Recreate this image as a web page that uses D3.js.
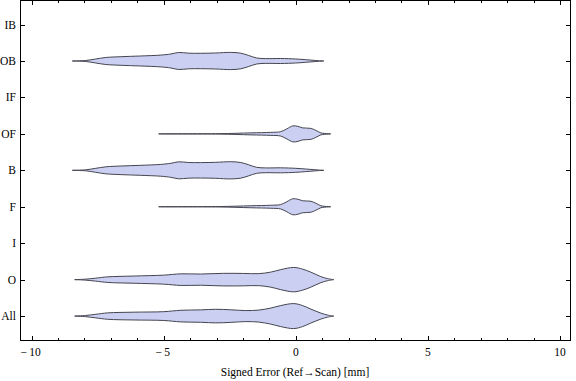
<!DOCTYPE html>
<html>
<head>
<meta charset="utf-8">
<script src="https://cdn.jsdelivr.net/npm/d3@7"></script>
<style>
  html, body { margin: 0; padding: 0; background: #fff; }
  svg { display: block; }
  text { font-family: "Liberation Serif", "Times New Roman", serif; fill: #000; }
</style>
</head>
<body>
<script>
// ---- data ----
const categories = ["All", "O", "I", "F", "B", "OF", "IF", "OB", "IB"];
const xTicks = [-10, -5, 0, 5, 10];
const xTickLabels = ["\u2212\u200910", "\u2212\u20095", "0", "5", "10"];
const xTitle = "Signed Error (Ref\u2192Scan) [mm]";

// violin profiles: x positions (mm) and relative density
const obX = [-8.46, -7.95, -7.57, -7.19, -6.62, -5.87, -5.11, -4.73, -4.43, -4.05, -3.60, -3.03, -2.46, -2.08, -1.78, -1.48, -1.14, -0.57, 0.00, 0.38, 0.76, 1.06];
const obD = [0, 0.5, 2.0, 3.5, 4.3, 5.0, 5.9, 7.0, 8.5, 7.8, 7.7, 8.0, 8.6, 7.8, 5.5, 3.0, 2.4, 2.5, 2.0, 1.3, 0.5, 0];
const bX = [-8.46, -7.95, -7.57, -7.19, -6.62, -5.87, -5.11, -4.73, -4.43, -4.05, -3.60, -3.03, -2.46, -2.08, -1.78, -1.48, -1.14, -0.57, 0.00, 0.38, 0.76, 1.06];
const bD = [0, 0.5, 2.0, 3.5, 4.3, 5.0, 5.9, 7.0, 8.5, 7.8, 7.7, 8.0, 8.6, 7.8, 5.5, 3.0, 2.4, 2.5, 2.0, 1.3, 0.5, 0];
const ofX = [-5.19, -2.91, -1.70, -0.95, -0.57, -0.34, -0.11, 0.08, 0.26, 0.57, 0.76, 0.95, 1.10, 1.32];
const ofD = [0, 0.2, 1.0, 1.5, 2.2, 5.0, 8.0, 7.5, 6.0, 5.5, 3.5, 1.0, 0.4, 0];
const fX = [-5.19, -2.91, -1.70, -0.95, -0.57, -0.34, -0.11, 0.08, 0.26, 0.57, 0.76, 0.95, 1.10, 1.32];
const fD = [0, 0.2, 1.0, 1.5, 2.2, 5.0, 8.0, 7.5, 6.0, 5.5, 3.5, 1.0, 0.4, 0];
const oX = [-8.37, -7.95, -7.57, -7.12, -6.13, -5.00, -4.35, -3.60, -2.73, -1.97, -1.40, -0.95, -0.57, -0.08, 0.26, 0.57, 0.95, 1.21, 1.44];
const oD = [0, 0.5, 1.5, 2.8, 3.6, 4.5, 5.8, 5.6, 6.3, 6.2, 6.0, 7.5, 10.0, 12.2, 10.5, 7.5, 3.0, 1.0, 0];
const allX = [-8.37, -7.95, -7.57, -7.12, -6.13, -5.00, -4.35, -3.60, -3.03, -2.46, -1.89, -1.40, -0.95, -0.57, -0.08, 0.26, 0.57, 0.95, 1.21, 1.44];
const allD = [0, 0.6, 1.8, 3.2, 3.9, 4.4, 5.8, 6.2, 6.8, 6.3, 5.5, 6.0, 8.0, 10.5, 12.5, 10.5, 7.0, 3.0, 1.0, 0];

const violins = [
  { cat: "OB", xs: obX, ds: obD },
  { cat: "OF", xs: ofX, ds: ofD },
  { cat: "B", xs: bX, ds: bD },
  { cat: "F", xs: fX, ds: fD },
  { cat: "O", xs: oX, ds: oD },
  { cat: "All", xs: allX, ds: allD }
];

// ---- layout ----
const W = 576, H = 381;
const mLeft = 20.5, mRight = 570.5, mTop = 0.5, mBottom = 340.5;

const svg = d3.select("body").append("svg").attr("width", W).attr("height", H);

const x = d3.scaleLinear().domain([-10.42, 10.4]).range([mLeft, mRight]);
const y = d3.scaleLinear().domain([0.33, 9.66]).range([mBottom, mTop]);
const catPos = c => y(categories.indexOf(c) + 1);
const w = d3.scaleLinear().domain([0, 12.5]).range([0, 12.5]);

// violins
violins.forEach(v => {
  const pts = v.xs.map((xv, i) => ({ x: xv, d: v.ds[i] }));
  const cy = catPos(v.cat);
  const area = d3.area()
    .x(d => x(d.x))
    .y0(d => cy - w(d.d))
    .y1(d => cy + w(d.d))
    .curve(d3.curveCatmullRom.alpha(0.5));
  svg.append("path")
    .datum(pts)
    .attr("d", area)
    .attr("fill", "#cbd0f3")
    .attr("stroke", "#454550")
    .attr("stroke-width", 1)
    .attr("stroke-linejoin", "round");
});

// frame
svg.append("rect")
  .attr("x", mLeft).attr("y", mTop)
  .attr("width", mRight - mLeft).attr("height", mBottom - mTop)
  .attr("fill", "none").attr("stroke", "#000").attr("stroke-width", 1);

// x ticks (inward, bottom & top)
const minor = d3.range(-10, 10.01, 1).filter(t => !xTicks.includes(t));
const tg = svg.append("g").attr("stroke", "#000").attr("stroke-width", 1);
xTicks.forEach(t => {
  const px = Math.round(x(t)) + 0.5;
  tg.append("line").attr("x1", px).attr("x2", px).attr("y1", mBottom).attr("y2", mBottom - 4.5);
  tg.append("line").attr("x1", px).attr("x2", px).attr("y1", mTop).attr("y2", mTop + 4.5);
});
minor.forEach(t => {
  const px = Math.round(x(t)) + 0.5;
  tg.append("line").attr("x1", px).attr("x2", px).attr("y1", mBottom).attr("y2", mBottom - 2.5);
  tg.append("line").attr("x1", px).attr("x2", px).attr("y1", mTop).attr("y2", mTop + 2.5);
});
// y ticks (inward, left & right)
categories.forEach(c => {
  const py = Math.round(catPos(c)) + 0.5;
  tg.append("line").attr("x1", mLeft).attr("x2", mLeft + 4.5).attr("y1", py).attr("y2", py);
  tg.append("line").attr("x1", mRight).attr("x2", mRight - 4.5).attr("y1", py).attr("y2", py);
});

// x tick labels
xTicks.forEach((t, i) => {
  svg.append("text")
    .attr("x", x(t) - (t < 0 ? 1 : 0)).attr("y", 355.5)
    .attr("text-anchor", "middle")
    .attr("font-size", 11.5)
    .text(xTickLabels[i]);
});

// y tick labels
categories.forEach(c => {
  svg.append("text")
    .attr("x", 16).attr("y", catPos(c) + 4)
    .attr("text-anchor", "end")
    .attr("font-size", 11.5)
    .text(c);
});

// x title
svg.append("text")
  .attr("x", 295).attr("y", 375.5)
  .attr("text-anchor", "middle")
  .attr("font-size", 11.5)
  .text(xTitle);
</script>
</body>
</html>
